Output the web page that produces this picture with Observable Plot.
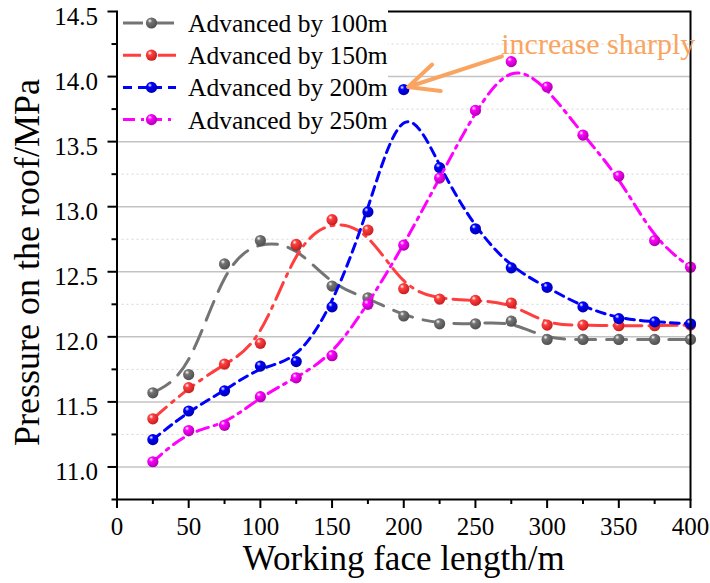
<!DOCTYPE html>
<html><head><meta charset="utf-8">
<script src="https://cdn.jsdelivr.net/npm/d3@7"></script>
<script src="https://cdn.jsdelivr.net/npm/@observablehq/plot@0.6"></script>
<style>
body{margin:0;background:#fff}
#chart{position:relative;width:710px;height:583px}
</style>
</head><body><div id="chart"></div>
<script>
// ---- data ----
const lengths = [25,50,75,100,125,150,175,200,225,250,275,300,325,350,375,400];
const adv100 = [11.57,11.71,12.56,12.74,12.70,12.39,12.30,12.16,12.10,12.10,12.12,11.98,11.98,11.98,11.98,11.98];
const adv150 = [11.37,11.61,11.79,11.95,12.71,12.90,12.82,12.37,12.29,12.28,12.26,12.09,12.09,12.085,12.085,12.09];
const adv200 = [11.21,11.43,11.585,11.775,11.81,12.23,12.96,13.90,13.30,12.83,12.53,12.38,12.23,12.14,12.115,12.10];
const adv250 = [11.04,11.28,11.32,11.54,11.685,11.855,12.25,12.705,13.22,13.74,14.115,13.92,13.55,13.235,12.74,12.535];
const seriesNames = ["Advanced by 100m","Advanced by 150m","Advanced by 200m","Advanced by 250m"];
const xTicks = [0,50,100,150,200,250,300,350,400];
const xMinorTicks = [25,75,125,175,225,275,325,375];
const yTicks = [11.0,11.5,12.0,12.5,13.0,13.5,14.0,14.5];
const yMinorTicks = [10.75,11.25,11.75,12.25,12.75,13.25,13.75,14.25];
const xLabel = "Working face length/m";
const yLabel = "Pressure on the roof/MPa";
const noteText = ["increase sharply"];
const noteTextPos = [{x: 268, y: 14.25}];
const noteArrow = [{x1: 268.5, y1: 14.155, x2: 203, y2: 13.92}];

// ---- styles ----
const colors = ["#747474","#ff3f3f","#0000ff","#ff00ff"];
const darks = ["#505050","#c81e1e","#0000b0","#b000b0"];
const dashes = ["20,11","18,7,3,7","9,6","12,6,3,6"];
const orange = "#f9a561";
const serif = "'Liberation Serif','Times New Roman',serif";

const seriesValues = [adv100, adv150, adv200, adv250];
const seriesData = seriesValues.map((vals, i) => lengths.map((x, j) => ({x, y: vals[j], s: i})));

const marks = [
  Plot.ruleY(yTicks.filter(v => v < 14.5), {stroke: "#c3c3c3", strokeWidth: 1.5}),
  Plot.ruleY(yMinorTicks.filter(v => v > 10.75), {stroke: "#d6d6d6", strokeWidth: 1, strokeDasharray: "2,3"}),
];
seriesData.forEach((d, i) => {
  marks.push(Plot.line(d, {x: "x", y: "y", curve: "basis", stroke: colors[i], strokeWidth: 3, strokeDasharray: dashes[i]}));
  marks.push(Plot.dot(d, {x: "x", y: "y", r: 5.6, fill: `url(#ball${i})`, stroke: "none"}));
});
marks.push(
  Plot.frame({stroke: "#000", strokeWidth: 2}),
  Plot.axisX(xTicks, {tickSize: 9, tickPadding: 9, fontSize: 25, strokeWidth: 2, label: null, tickFormat: d => String(d)}),
  Plot.axisX(xMinorTicks, {tickSize: 5, strokeWidth: 2, label: null, tickFormat: () => ""}),
  Plot.axisY(yTicks, {tickSize: 9, strokeWidth: 2, label: null, tickFormat: () => ""}),
  Plot.axisY(yTicks, {tickSize: 0, tickPadding: 19, fontSize: 25, label: null, dy: 5, tickFormat: d3.format(".1f")}),
  Plot.axisY(yMinorTicks, {tickSize: 5, strokeWidth: 2, label: null, tickFormat: () => ""}),
  Plot.text([xLabel], {frameAnchor: "bottom", dy: 59, fontSize: 35, fill: "#000", textAnchor: "middle", lineAnchor: "middle"}),
  Plot.text([yLabel], {frameAnchor: "left", dx: -90, dy: 7, rotate: -90, fontSize: 36, fill: "#000", textAnchor: "middle", lineAnchor: "middle"}),
  Plot.arrow(noteArrow, {x1: "x1", y1: "y1", x2: "x2", y2: "y2", stroke: orange, strokeWidth: 4, headLength: 16, headAngle: 50}),
  Plot.text(noteText, {x: () => noteTextPos[0].x, y: () => noteTextPos[0].y, text: d => d, fill: orange, fontSize: 30, textAnchor: "start", lineAnchor: "middle"})
);

const svg = Plot.plot({
  width: 710, height: 583,
  marginLeft: 116.5, marginRight: 20, marginTop: 11, marginBottom: 84,
  x: {domain: [0, 400], label: null},
  y: {domain: [10.75, 14.5], label: null},
  style: {fontFamily: serif, fontSize: "25px", background: "#fff", color: "#000", overflow: "visible"},
  marks
});

// gradient defs for shaded markers
const defs = d3.select(svg).insert("defs", ":first-child");
colors.forEach((c, i) => {
  const g = defs.append("radialGradient").attr("id", `ball${i}`)
    .attr("cx", "0.38").attr("cy", "0.35").attr("r", "0.65").attr("fx", "0.35").attr("fy", "0.3");
  g.append("stop").attr("offset", "0").attr("stop-color", "#ffffff");
  g.append("stop").attr("offset", "0.3").attr("stop-color", c);
  g.append("stop").attr("offset", "1").attr("stop-color", darks[i]);
});

// legend (inside plot, top-left, white background)
const lg = d3.select(svg).append("g").attr("class", "legend");
lg.append("rect").attr("x", 118).attr("y", 0).attr("width", 270).attr("height", 133).style("fill", "#ffffff");
seriesNames.forEach((name, i) => {
  const cy = 23 + i * 32.2;
  lg.append("line").attr("x1", 123).attr("x2", 176).attr("y1", cy).attr("y2", cy)
    .attr("stroke", colors[i]).attr("stroke-width", 3).attr("stroke-dasharray", dashes[i]);
  lg.append("circle").attr("cx", 151.5).attr("cy", cy).attr("r", 5.6).attr("fill", `url(#ball${i})`);
  lg.append("text").attr("x", 188).attr("y", cy).attr("dy", "0.35em").attr("text-anchor", "start")
    .attr("font-size", 25.5).attr("font-family", serif).attr("fill", "#000").text(name);
});

document.getElementById("chart").appendChild(svg);
</script>
</body></html>
